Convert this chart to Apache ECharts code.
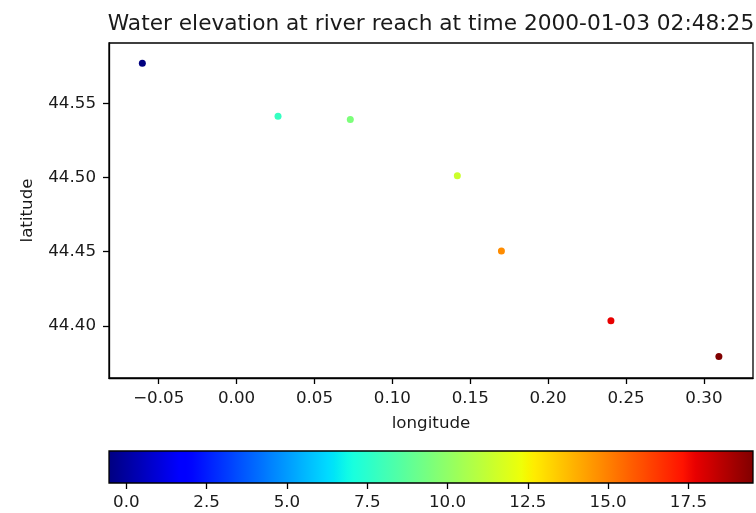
<!DOCTYPE html>
<html><head><meta charset="utf-8">
<script src="https://cdn.jsdelivr.net/npm/echarts@6/dist/echarts.min.js"></script>
<style>html,body{margin:0;padding:0;background:#fff}#c{width:756px;height:513px}</style>
</head><body><div id="c"></div>
<script>
// ---- data ----
const longitude = [-0.0605, 0.0266, 0.0730, 0.1417, 0.1700, 0.2403, 0.3096];
const latitude  = [44.5771, 44.5414, 44.5392, 44.5012, 44.4505, 44.4034, 44.3793];
const elevation = [-0.54, 7.78, 9.5, 11.43, 14.73, 17.7, 19.51];
const lonTicks = [-0.05, 0, 0.05, 0.10, 0.15, 0.20, 0.25, 0.30];
const latTicks = [44.40, 44.45, 44.50, 44.55];
const cbTicks  = [0, 2.5, 5, 7.5, 10, 12.5, 15, 17.5];
const titleText = 'Water elevation at river reach at time 2000-01-03 02:48:25';
const xRange = [-0.0819, 0.3315];
const yRange = [44.3648, 44.5908];

// ---- jet colormap (matplotlib segment data) ----
const jetR = [[0,0],[0.35,0],[0.66,1],[0.89,1],[1,0.5]];
const jetG = [[0,0],[0.125,0],[0.375,1],[0.64,1],[0.91,0],[1,0]];
const jetB = [[0,0.5],[0.11,1],[0.34,1],[0.65,0],[1,0]];
function seg(s, x){
  for (let i=1;i<s.length;i++){
    if (x<=s[i][0]){const t=(x-s[i-1][0])/(s[i][0]-s[i-1][0]);return s[i-1][1]+t*(s[i][1]-s[i-1][1]);}
  }
  return s[s.length-1][1];
}
function jet(x){
  const c=[seg(jetR,x),seg(jetG,x),seg(jetB,x)].map(v=>Math.round(v*255));
  return 'rgb('+c.join(',')+')';
}
const N=100;
const jetColors=[];const jetStops=[];
for(let i=0;i<=N;i++){const x=i/N;jetColors.push(jet(x));jetStops.push({offset:x,color:jet(x)});}

const cbMin=Math.min(...elevation), cbMax=Math.max(...elevation);
const FONT='DejaVu Sans';
const TXT='#1a1a1a';
const fmt=(d)=>(v)=>{const s=Math.abs(v).toFixed(d);return (v<-1e-9?'\u2212':'')+s;};

const chart=echarts.init(document.getElementById('c'),null,{renderer:'canvas'});
chart.setOption({
  animation:false,
  backgroundColor:'#fff',
  textStyle:{fontFamily:FONT},
  title:{text:titleText,left:426,top:8,textAlign:'center',
    textStyle:{fontFamily:FONT,fontSize:21.7,fontWeight:'normal',color:TXT}},
  grid:[
    {left:109,right:3,top:43,bottom:135,show:true,borderColor:'#000',borderWidth:1.3,backgroundColor:'transparent'},
    {left:109,right:3,top:451,height:32,show:false}
  ],
  xAxis:[
    {type:'value',gridIndex:0,min:xRange[0],max:xRange[1],
     axisLine:{show:true,onZero:false,lineStyle:{color:'#000',width:1.3}},
     axisTick:{show:true,customValues:lonTicks,length:6,lineStyle:{color:'#000',width:1.3}},
     axisLabel:{customValues:lonTicks,formatter:fmt(2),fontSize:16.7,color:TXT,margin:12,fontFamily:FONT},
     splitLine:{show:false},
     name:'longitude',nameLocation:'middle',nameGap:37,
     nameTextStyle:{fontSize:16.7,color:TXT,fontFamily:FONT}},
    {type:'value',gridIndex:1,min:cbMin,max:cbMax,
     axisLine:{show:false},
     axisTick:{show:true,customValues:cbTicks,length:6,lineStyle:{color:'#000',width:1.3}},
     axisLabel:{customValues:cbTicks,formatter:fmt(1),fontSize:16.7,color:TXT,margin:11,fontFamily:FONT},
     splitLine:{show:false}}
  ],
  yAxis:[
    {type:'value',gridIndex:0,min:yRange[0],max:yRange[1],
     axisLine:{show:true,onZero:false,lineStyle:{color:'#000',width:1.3}},
     axisTick:{show:true,customValues:latTicks,length:6,lineStyle:{color:'#000',width:1.3}},
     axisLabel:{customValues:latTicks,formatter:fmt(2),fontSize:16.7,color:TXT,margin:13,fontFamily:FONT},
     splitLine:{show:false},
     name:'latitude',nameLocation:'middle',nameGap:73,
     nameTextStyle:{fontSize:16.7,color:TXT,fontFamily:FONT}},
    {type:'value',gridIndex:1,min:0,max:1,show:false}
  ],
  visualMap:{type:'continuous',show:false,min:cbMin,max:cbMax,dimension:2,seriesIndex:0,
    inRange:{color:jetColors}},
  series:[
    {type:'scatter',xAxisIndex:0,yAxisIndex:0,symbolSize:7,itemStyle:{opacity:1},
     data:longitude.map((v,i)=>[v,latitude[i],elevation[i]])},
    {type:'custom',xAxisIndex:1,yAxisIndex:1,silent:true,
     encode:{x:[0,1]},
     data:[[cbMin,cbMax]],
     renderItem:function(params,api){
       const p0=api.coord([api.value(0),1]);
       const p1=api.coord([api.value(1),0]);
       return {type:'rect',shape:{x:p0[0],y:p0[1],width:p1[0]-p0[0],height:p1[1]-p0[1]},
         style:{fill:new echarts.graphic.LinearGradient(0,0,1,0,jetStops),stroke:'#000',lineWidth:1.3}};
     }}
  ]
});
</script></body></html>
